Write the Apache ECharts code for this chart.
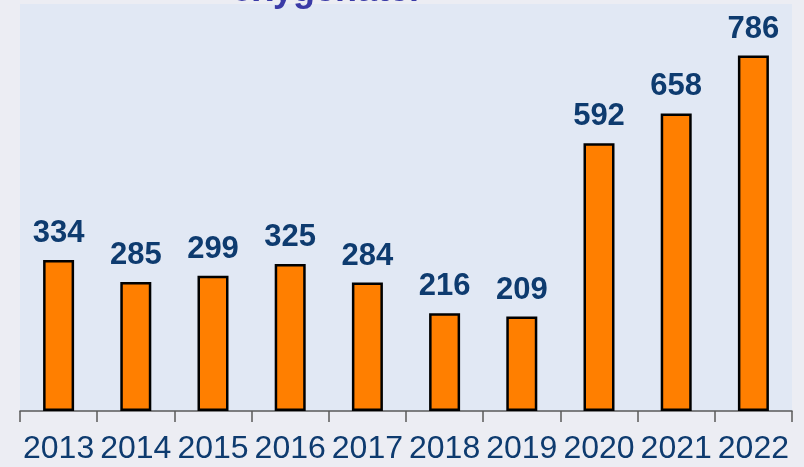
<!DOCTYPE html>
<html>
<head>
<meta charset="utf-8">
<script src="https://cdn.jsdelivr.net/npm/echarts@6/dist/echarts.min.js"></script>
<style>
html,body{margin:0;padding:0;background:#ECEDF3;}
#c{width:804px;height:467px;}
</style>
</head>
<body>
<div id="c"></div>
<script>
const years = ['2013','2014','2015','2016','2017','2018','2019','2020','2021','2022'];
const values = [334, 285, 299, 325, 284, 216, 209, 592, 658, 786];
const titleText = 'oxygenater';

const chart = echarts.init(document.getElementById('c'), null, {renderer:'canvas'});
chart.setOption({
  backgroundColor: '#ECEDF3',
  animation: false,
  grid: {left: 20, right: 12, top: 4, bottom: 56, show: true, backgroundColor: '#E1E8F4', borderWidth: 0},
  graphic: [{
    type: 'text', z: 100,
    style: {x: 327, y: 9, text: titleText, align: 'center', verticalAlign: 'bottom',
      font: 'bold 36px "Liberation Sans", Arial, sans-serif', fill: '#3A3AA6'}
  }],
  xAxis: {
    type: 'category', data: years,
    axisLine: {show: true, lineStyle: {color: '#5a5a5a', width: 1.5}},
    axisTick: {show: true, length: 11, lineStyle: {color: '#5a5a5a', width: 1.5}},
    axisLabel: {color: '#0E3B6F', fontFamily: '"Liberation Sans", Arial, sans-serif', fontSize: 32, margin: 22, interval: 0}
  },
  yAxis: {type: 'value', min: 0, max: 900, show: false, splitLine: {show: false}},
  series: [{
    type: 'bar', data: values, barWidth: 31,
    itemStyle: {color: '#FF7F00', borderColor: '#000000', borderWidth: 2.5},
    label: {show: true, position: 'top', distance: 11, color: '#0E3B6F',
      fontFamily: '"Liberation Sans", Arial, sans-serif', fontWeight: 'bold', fontSize: 31}
  }]
});
</script>
</body>
</html>
